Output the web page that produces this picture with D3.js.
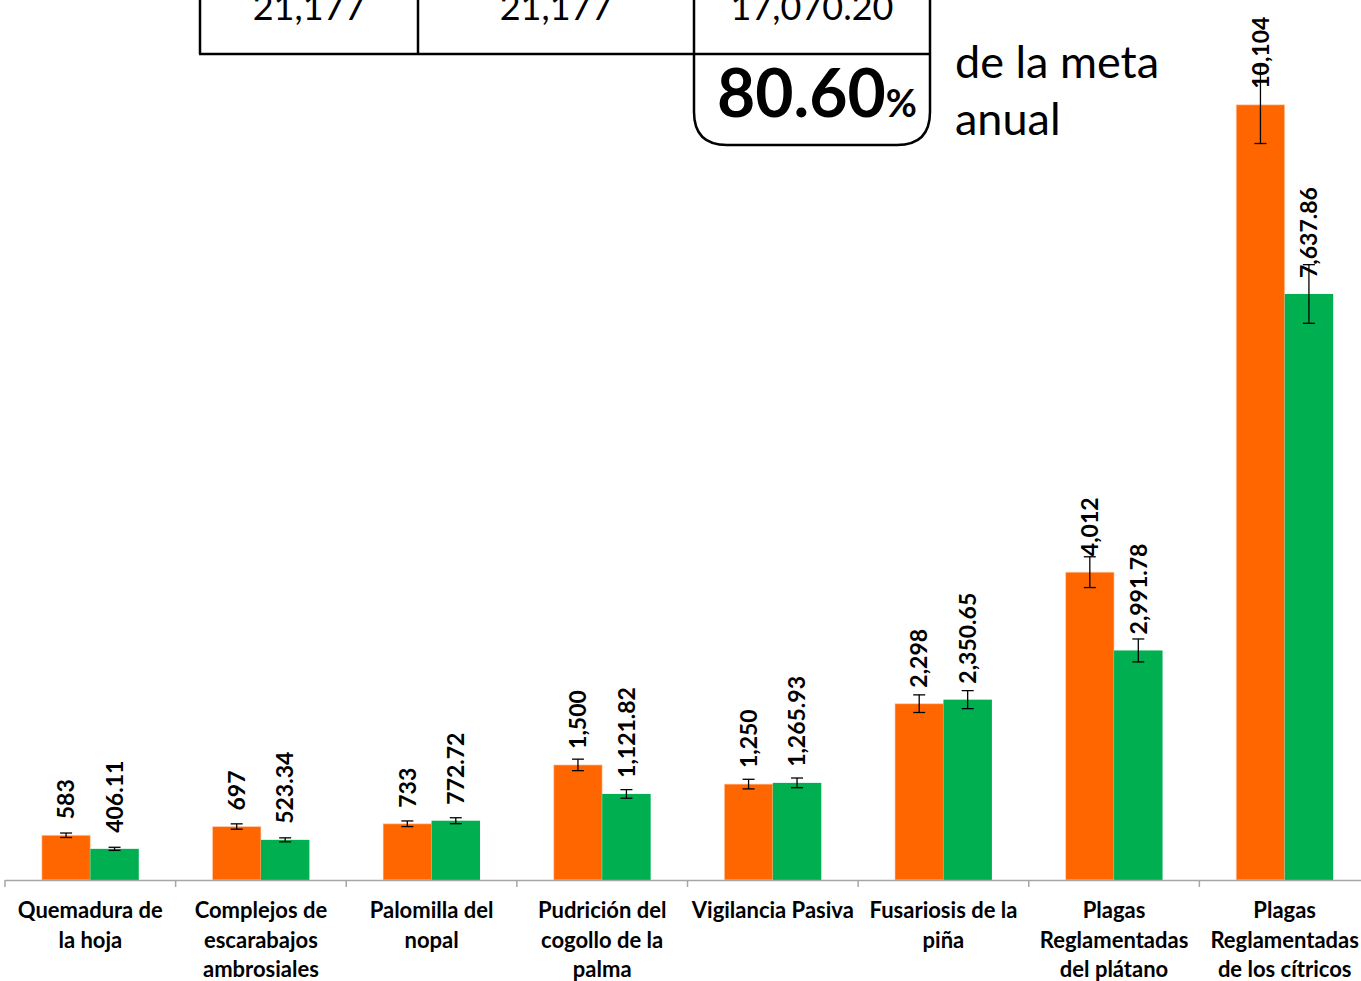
<!DOCTYPE html>
<html>
<head>
<meta charset="utf-8">
<script src="https://cdn.jsdelivr.net/npm/d3@7"></script>
<style>
  body { margin: 0; background: #fff; }
  svg { display: block; font-family: Lato, "Open Sans", sans-serif; }
</style>
</head>
<body>
<svg id="chart" width="1361" height="981"></svg>
<script>
// datos del grafico (las etiquetas llevan sus cortes de linea)
const categories = [
  'Quemadura de|la hoja',
  'Complejos de|escarabajos|ambrosiales',
  'Palomilla del|nopal',
  'Pudrición del|cogollo de la|palma',
  'Vigilancia Pasiva',
  'Fusariosis de la|piña',
  'Plagas|Reglamentadas|del plátano',
  'Plagas|Reglamentadas|de los cítricos'
];
const meta = [583, 697, 733, 1500, 1250, 2298, 4012, 10104];
const realizado = [406.11, 523.34, 772.72, 1121.82, 1265.93, 2350.65, 2991.78, 7637.86];
const tableValues = ['21,177', '21,177', '17,070.20'];
const percentText = '80.60';
const noteLines = ['de la meta', 'anual'];

const series = [
  { key: 'meta', values: meta, color: '#ff6600', fmt: d3.format(',') },
  { key: 'realizado', values: realizado, color: '#00b050', fmt: d3.format(',.2f') }
];

const svg = d3.select('#chart');
const baseY = 880;

const x = d3.scaleBand().domain(categories).range([5, 1370]).paddingInner(0).paddingOuter(0);
const x1 = d3.scaleBand().domain(series.map(s => s.key)).range([0, x.bandwidth()]).paddingInner(0).paddingOuter(0.76);
const y = d3.scaleLinear().domain([0, 11000]).range([baseY, 36]);

// barras
series.forEach(s => {
  const g = svg.append('g');
  categories.forEach((c, i) => {
    const v = s.values[i];
    const bx = x(c) + x1(s.key);
    const bw = x1.bandwidth();
    g.append('rect')
      .attr('x', bx)
      .attr('y', y(v))
      .attr('width', bw)
      .attr('height', baseY - y(v))
      .attr('fill', s.color)
      .attr('stroke', '#ffd9c0')
      .attr('stroke-opacity', s.key === 'meta' ? 0.6 : 0)
      .attr('stroke-width', 1);

    // barras de error 5%
    const cx = bx + bw / 2;
    const e = v * 0.05;
    g.append('line').attr('x1', cx).attr('x2', cx).attr('y1', y(v + e)).attr('y2', y(v - e))
      .attr('stroke', '#000').attr('stroke-width', 1.3);
    [v + e, v - e].forEach(t => {
      g.append('line').attr('x1', cx - 6).attr('x2', cx + 6).attr('y1', y(t)).attr('y2', y(t))
        .attr('stroke', '#000').attr('stroke-width', 1.3);
    });

    // etiqueta de dato
    g.append('text')
      .attr('transform', `translate(${cx},${y(v) - 16}) rotate(-90)`)
      .attr('text-anchor', 'start')
      .attr('dy', '0.36em')
      .attr('font-weight', 'bold')
      .attr('font-size', 23)
      .attr('fill', '#000')
      .text(s.fmt(v));
  });
});

// eje x
const axis = svg.append('g');
axis.append('line').attr('x1', 5).attr('x2', 1361).attr('y1', baseY + 0.5).attr('y2', baseY + 0.5)
  .attr('stroke', '#a6a6a6').attr('stroke-width', 1.5);
categories.forEach(c => {
  axis.append('line').attr('x1', x(c)).attr('x2', x(c)).attr('y1', baseY).attr('y2', baseY + 7)
    .attr('stroke', '#a6a6a6').attr('stroke-width', 1.5);
});

categories.forEach(c => {
  const t = axis.append('text')
    .attr('text-anchor', 'middle')
    .attr('font-weight', 'bold')
    .attr('font-size', 22)
    .attr('fill', '#000');
  c.split('|').forEach((l, i) => {
    t.append('tspan').attr('x', x(c) + x.bandwidth() / 2).attr('y', 918 + i * 29.5).text(l);
  });
});

// tabla superior
const tbl = svg.append('g').attr('stroke', '#000').attr('stroke-width', 2.5).attr('fill', 'none');
[200, 418, 694, 930].forEach(px => {
  tbl.append('line').attr('x1', px).attr('x2', px).attr('y1', -5).attr('y2', 54);
});
tbl.append('line').attr('x1', 199).attr('x2', 931).attr('y1', 54).attr('y2', 54);
tbl.append('path')
  .attr('d', 'M694,54 L694,112 Q694,145 727,145 L897,145 Q930,145 930,112 L930,54');

const cellCenters = [309, 556, 812];
tableValues.forEach((v, i) => {
  svg.append('text')
    .attr('x', cellCenters[i]).attr('y', 20)
    .attr('text-anchor', 'middle')
    .attr('font-size', 36)
    .attr('fill', '#000')
    .text(v);
});

const pct = svg.append('text')
  .attr('x', 817).attr('y', 117)
  .attr('text-anchor', 'middle')
  .attr('font-weight', 'bold')
  .attr('fill', '#000');
pct.append('tspan').attr('font-size', 66).text(percentText);
pct.append('tspan').attr('font-size', 38).text('%');

noteLines.forEach((l, i) => {
  svg.append('text')
    .attr('x', 955).attr('y', 78 + i * 57)
    .attr('font-size', 45)
    .attr('fill', '#000')
    .text(l);
});
</script>
</body>
</html>
